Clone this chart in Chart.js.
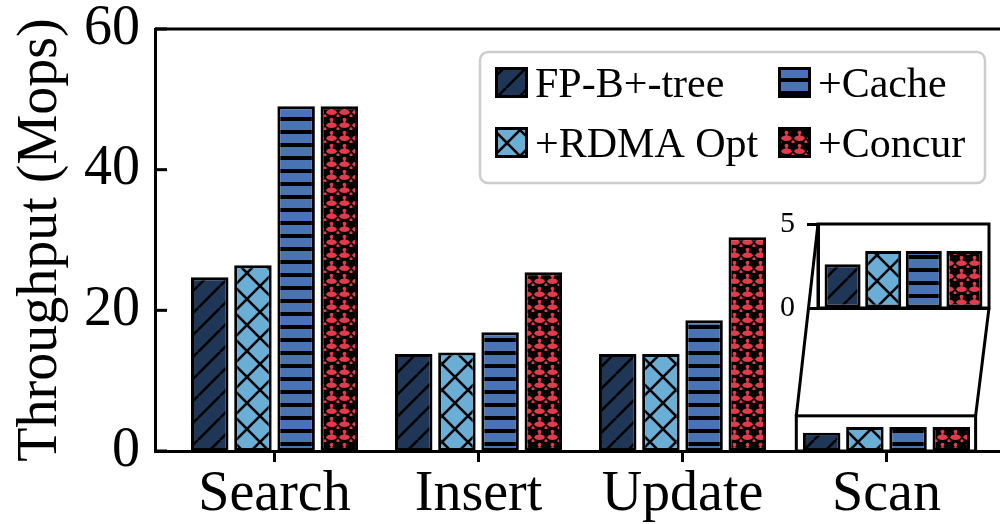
<!DOCTYPE html>
<html><head><meta charset="utf-8">
<script src="https://cdn.jsdelivr.net/npm/chart.js@4.4.1/dist/chart.umd.min.js"></script>
<style>
html,body{margin:0;padding:0;background:#fff;overflow:hidden;width:1000px;height:524px;}
#wrap{position:relative;width:1000px;height:524px;overflow:hidden;background:#fff;}
#main{position:absolute;left:0;top:0;}
#inset{position:absolute;left:760px;top:190px;}
</style></head><body>
<div id="wrap">
<canvas id="main" width="1012" height="524"></canvas>
<canvas id="inset" width="250" height="275"></canvas>
</div>
<script>
// ---- data ----
const categories = ['Search', 'Insert', 'Update', 'Scan'];
const seriesLabels = ['FP-B+-tree', '+RDMA Opt', '+Cache', '+Concur'];
const fpBtree = [24.7, 13.8, 13.8, 2.6];
const rdmaOpt = [26.4, 14.0, 13.8, 3.4];
const cache   = [49.0, 16.9, 18.6, 3.4];
const concur  = [49.0, 25.4, 30.4, 3.4];
const yTicks = [0, 20, 40, 60];
const insetTicks = [0, 5];
const yTitle = 'Throughput (Mops)';

const FAMILY = 'Liberation Serif';
Chart.defaults.font.family = FAMILY;
Chart.defaults.color = '#000';

// ---- hatch tiles ----
function tile(w, h, draw) { const c = document.createElement('canvas'); c.width = w; c.height = h; draw(c.getContext('2d'), w, h); return c; }
const diagTile = tile(22, 22, (g, s) => {
  g.fillStyle = '#1f3657'; g.fillRect(0, 0, s, s);
  g.strokeStyle = '#000'; g.lineWidth = 2.6;
  for (const k of [-s, 0, s]) { g.beginPath(); g.moveTo(k, s); g.lineTo(k + s, 0); g.stroke(); }
});
const crossTile = tile(26, 26, (g, s) => {
  g.fillStyle = '#6aaed6'; g.fillRect(0, 0, s, s);
  g.strokeStyle = '#000'; g.lineWidth = 2.6;
  for (const k of [-s, 0, s]) {
    g.beginPath(); g.moveTo(k, s); g.lineTo(k + s, 0); g.stroke();
    g.beginPath(); g.moveTo(k, 0); g.lineTo(k + s, s); g.stroke();
  }
});
const stripeTile = tile(13, 13, (g, w, h) => {
  g.fillStyle = '#4a73b3'; g.fillRect(0, 0, w, h);
  g.fillStyle = '#000'; g.fillRect(0, 0, w, 4);
});
const dotTile = tile(13, 13, (g, w, h) => {
  g.fillStyle = '#000'; g.fillRect(0, 0, w, h);
  g.fillStyle = '#e43a4b';
  g.beginPath(); g.ellipse(6.5, 8.2, 5.2, 2.8, 0, 0, Math.PI * 2); g.fill();
  g.fillRect(5.5, 2.5, 2, 5);
  g.beginPath(); g.arc(6.5, 2.6, 1.9, 0, Math.PI * 2); g.fill();
  g.beginPath(); g.arc(0, 11.8, 1.6, 0, Math.PI * 2); g.fill();
  g.beginPath(); g.arc(13, 11.8, 1.6, 0, Math.PI * 2); g.fill();
});
const seriesValues = [fpBtree, rdmaOpt, cache, concur];
const seriesTiles = [diagTile, crossTile, stripeTile, dotTile];

// ---- main chart ----
const mainCtx = document.getElementById('main').getContext('2d');
const mainPatterns = seriesTiles.map(t => mainCtx.createPattern(t, 'repeat'));

const framePlugin = {
  id: 'frame',
  afterDraw(chart) {
    const c = chart.ctx, a = chart.chartArea, ys = chart.scales.y;
    c.save();
    c.strokeStyle = '#000'; c.lineWidth = 3;
    c.beginPath(); c.moveTo(a.left, a.top); c.lineTo(a.right, a.top); c.lineTo(a.right, a.bottom); c.stroke();
    yTicks.forEach(v => { const y = ys.getPixelForValue(v); c.beginPath(); c.moveTo(a.left, y); c.lineTo(a.left + 12, y); c.stroke(); });
    c.restore();
  }
};

const legendPlugin = {
  id: 'legendBox',
  afterDraw(chart) {
    const c = chart.ctx;
    c.save();
    c.beginPath();
    if (c.roundRect) c.roundRect(480, 52, 505, 131, 8); else c.rect(480, 52, 505, 131);
    c.fillStyle = 'rgba(255,255,255,0.85)'; c.fill();
    c.strokeStyle = '#cccccc'; c.lineWidth = 2.5; c.stroke();
    const pos = [[495, 67], [495, 127], [778, 67], [778, 127]];
    c.font = '42px "' + FAMILY + '"'; c.textBaseline = 'alphabetic'; c.textAlign = 'left';
    pos.forEach((p, i) => {
      c.fillStyle = mainPatterns[i]; c.fillRect(p[0], p[1], 33, 31);
      c.strokeStyle = '#000'; c.lineWidth = 3; c.strokeRect(p[0] + 1.5, p[1] + 1.5, 30, 28);
      c.fillStyle = '#000'; c.fillText(seriesLabels[i], p[0] + 40, p[1] + 30);
    });
    c.restore();
  }
};

function noPad(s) { s.paddingTop = 0; s.paddingBottom = 0; s.paddingLeft = 0; s.paddingRight = 0; }

const mainChart = new Chart(mainCtx, {
  type: 'bar',
  data: {
    datasets: seriesLabels.map((lab, s) => ({
      label: lab,
      data: seriesValues[s].map((v, i) => ({ x: i, y: v })),
      backgroundColor: mainPatterns[s], borderColor: '#000', borderWidth: 3, borderSkipped: false,
      categoryPercentage: 0.847, barPercentage: 0.868
    }))
  },
  options: {
    responsive: false, animation: false, events: [],
    layout: { padding: { top: 29, right: 6, left: 0, bottom: 0 } },
    plugins: { legend: { display: false }, tooltip: { enabled: false } },
    scales: {
      x: {
        type: 'linear', min: -0.586, max: 3.586, offset: false,
        afterBuildTicks: s => { s.ticks = categories.map((c, i) => ({ value: i })); },
        ticks: { callback: v => categories[v], font: { family: FAMILY, size: 56 }, color: '#000', padding: 0, autoSkip: false, maxRotation: 0 },
        grid: { display: true, offset: false, drawOnChartArea: false, drawTicks: true, tickLength: 11, tickWidth: 3, tickColor: '#000' },
        border: { display: true, color: '#000', width: 3 },
        afterFit: s => { s.height = 73; noPad(s); }
      },
      y: {
        min: 0, max: 60,
        afterBuildTicks: s => { s.ticks = yTicks.map(v => ({ value: v })); },
        ticks: { font: { family: FAMILY, size: 56 }, color: '#000', padding: 15 },
        grid: { display: false, drawTicks: false },
        border: { display: true, color: '#000', width: 3 },
        title: { display: true, text: yTitle, font: { family: FAMILY, size: 56 }, color: '#000', padding: { top: 8, bottom: 0 } },
        afterFit: s => { s.width = 155; noPad(s); }
      }
    }
  },
  plugins: [framePlugin, legendPlugin]
});

// ---- inset chart ----
const OFF_X = 760, OFF_Y = 190;
const zoomXMin = 2.558, zoomXMax = 3.437, zoomYMax = 5;
const insetCtx = document.getElementById('inset').getContext('2d');
const insetPatterns = seriesTiles.map(t => insetCtx.createPattern(t, 'repeat'));

const insetPlugin = {
  id: 'insetFrame',
  afterDraw(chart) {
    const c = chart.ctx, a = chart.chartArea;
    const mx = mainChart.scales.x, my = mainChart.scales.y;
    const x0 = mx.getPixelForValue(zoomXMin) - OFF_X, x1 = mx.getPixelForValue(zoomXMax) - OFF_X;
    const y0 = my.getPixelForValue(zoomYMax) - OFF_Y, y1 = my.getPixelForValue(0) - OFF_Y;
    c.save();
    c.strokeStyle = '#000'; c.lineWidth = 3;
    c.strokeRect(a.left, a.top, a.right - a.left, a.bottom - a.top);
    c.strokeRect(x0, y0, x1 - x0, y1 - y0);
    c.beginPath(); c.moveTo(a.left, a.top); c.lineTo(x0, y0); c.stroke();
    c.beginPath(); c.moveTo(a.right, a.bottom); c.lineTo(x1, y0); c.stroke();
    c.restore();
  }
};

new Chart(insetCtx, {
  type: 'bar',
  data: {
    labels: [categories[3]],
    datasets: seriesLabels.map((lab, s) => ({
      label: lab, data: [seriesValues[s][3]],
      backgroundColor: insetPatterns[s], borderColor: '#000', borderWidth: 3, borderSkipped: false,
      categoryPercentage: 0.95, barPercentage: 0.887
    }))
  },
  options: {
    responsive: false, animation: false, events: [],
    layout: { padding: { top: 34, right: 21, left: 0, bottom: 0 } },
    plugins: { legend: { display: false }, tooltip: { enabled: false } },
    scales: {
      x: {
        ticks: { display: false }, grid: { display: false },
        border: { display: true, color: '#000', width: 3 },
        afterFit: s => { s.height = 157; noPad(s); }
      },
      y: {
        min: 0, max: 5,
        afterBuildTicks: s => { s.ticks = insetTicks.map(v => ({ value: v })); },
        ticks: { font: { family: FAMILY, size: 30 }, color: '#000', padding: 12 },
        grid: { display: true, drawOnChartArea: false, drawTicks: true, tickLength: 11, tickWidth: 3, tickColor: '#000' },
        border: { display: true, color: '#000', width: 3 },
        afterFit: s => { s.width = 58; noPad(s); }
      }
    }
  },
  plugins: [insetPlugin]
});
</script>
</body></html>
